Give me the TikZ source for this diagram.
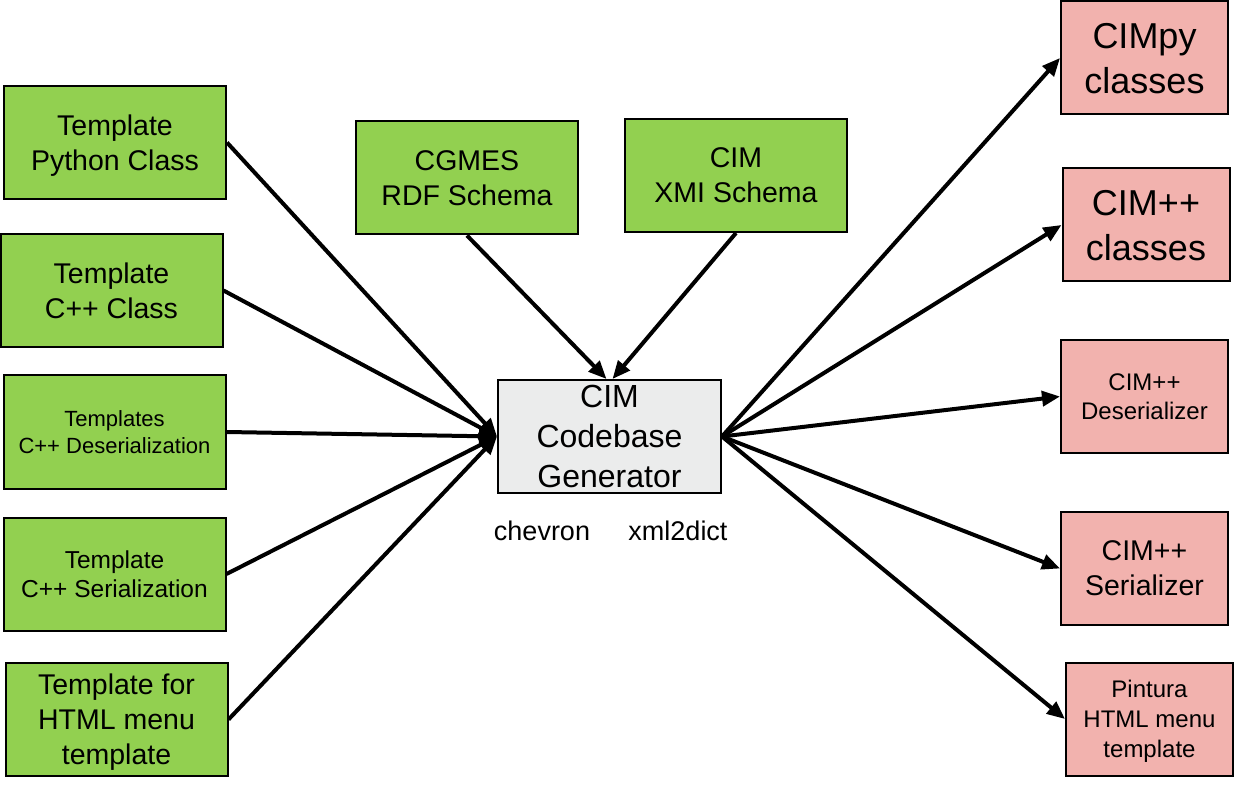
\documentclass[tikz,border=0pt]{standalone}
\usepackage{fontspec}
\setmainfont{Liberation Sans}
\usetikzlibrary{arrows.meta}

\definecolor{tplgreen}{RGB}{146,208,80}
\definecolor{outpink}{RGB}{242,178,174}
\definecolor{gengray}{RGB}{235,236,236}
\newcommand{\boxfont}[2]{\fontsize{#1}{#2}\selectfont}

\begin{document}
\begin{tikzpicture}[x=1pt,y=-1pt,
        inbox/.style={draw,line width=2pt,fill=tplgreen,align=center,inner sep=0pt,
            text depth=0pt,minimum width=222pt,minimum height=113pt},
        outbox/.style={draw,line width=2pt,fill=outpink,align=center,inner sep=0pt,
            text depth=0pt,minimum width=167pt,minimum height=113pt},
        flow/.style={line width=4pt,-{Triangle[length=18pt,width=15pt]}}]
        \useasboundingbox (0,0) rectangle (1240,791);

        % templates on the left
        \node[inbox,font=\boxfont{28.5}{35}] (tpy) at (115,142.5) {Template\\Python Class};
        \node[inbox,font=\boxfont{28.5}{35}] (tcpp) at (111.5,290.5) {Template\\C++ Class};
        \node[inbox,font=\boxfont{22}{27}] (tdes) at (114.5,432) {Templates\\C++ Deserialization};
        \node[inbox,font=\boxfont{24.5}{29.5}] (tser) at (114.5,574) {Template\\C++ Serialization};
        \node[inbox,font=\boxfont{28.5}{35}] (thtml) at (116.5,719.5) {Template for\\HTML menu\\template};

        % schemas on top
        \node[inbox,font=\boxfont{28.5}{35}] (cgmes) at (467,178) {CGMES\\RDF Schema};
        \node[inbox,font=\boxfont{28.5}{35}] (xmi) at (736,175.5) {CIM\\XMI Schema};

        \node[draw,line width=2pt,fill=gengray,align=center,inner sep=0pt,font=\boxfont{32}{40},
            minimum width=223pt,minimum height=113pt] (gen) at (609.5,436.5)
            {CIM\\Codebase\\Generator};
        \node[anchor=base,font=\boxfont{27}{32}] (lchev) at (542,540) {chevron};
        \node[anchor=base,font=\boxfont{27}{32}] (lxml) at (678,540) {xml2dict};

        % generated code on the right
        \node[outbox,font=\boxfont{36}{45}] (cimpy) at (1144.5,58) {CIMpy\\classes};
        \node[outbox,font=\boxfont{36}{45}] (cimcls) at (1146,225) {CIM++\\classes};
        \node[outbox,font=\boxfont{24}{29}] (deser) at (1144.5,396.5) {CIM++\\Deserializer};
        \node[outbox,font=\boxfont{28.5}{35}] (ser) at (1144.5,568.5) {CIM++\\Serializer};
        \node[outbox,font=\boxfont{24}{30}] (pintura) at (1149.5,719) {Pintura\\HTML menu\\template};

        \draw[flow] (tpy.east) -- (gen.west);
        \draw[flow] (tcpp.east) -- (gen.west);
        \draw[flow] (tdes.east) -- (gen.west);
        \draw[flow] (tser.east) -- (gen.west);
        \draw[flow] (thtml.east) -- (gen.west);
        \draw[flow] (cgmes.south) -- ([xshift=-3pt]gen.north);
        \draw[flow] (xmi.south) -- ([xshift=3pt]gen.north);

        \draw[flow] (gen.east) -- (cimpy.west);
        \draw[flow] (gen.east) -- (cimcls.west);
        \draw[flow] (gen.east) -- (deser.west);
        \draw[flow] (gen.east) -- (ser.west);
        \draw[flow] (gen.east) -- (pintura.west);

    \end{tikzpicture}
\end{document}
